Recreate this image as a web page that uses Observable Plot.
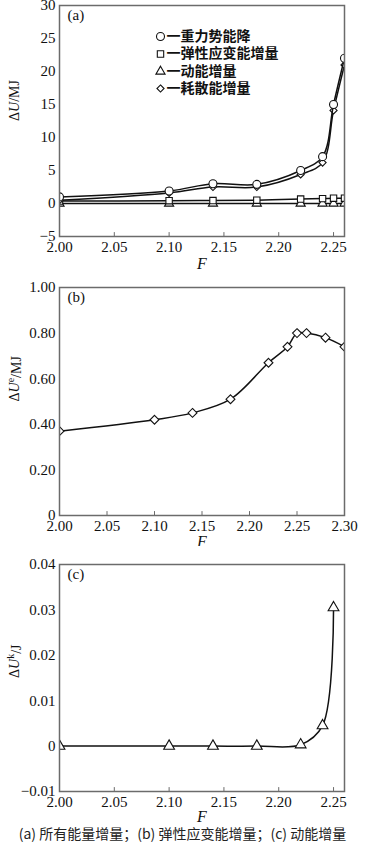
<!DOCTYPE html>
<html><head><meta charset="utf-8">
<script src="https://cdn.jsdelivr.net/npm/d3@7"></script>
<script src="https://cdn.jsdelivr.net/npm/@observablehq/plot@0.6"></script>
<style>
body{margin:0;background:#fff;}
#wrap{position:relative;width:365px;height:846px;overflow:hidden;}
.panel{position:absolute;left:0;}
#cap{position:absolute;left:0;top:826px;width:365px;text-align:center;font-family:"Noto Sans CJK SC",sans-serif;font-size:14px;color:#222;line-height:15px;white-space:nowrap;}
</style></head><body><div id="wrap"></div><script>
// ---- data ----
const F_a = [2.00, 2.10, 2.14, 2.18, 2.22, 2.24, 2.25, 2.26];
const gravity = [1.0, 1.9, 3.0, 2.9, 5.0, 7.1, 15.0, 22.0];
const elasticA = [0.37, 0.42, 0.45, 0.51, 0.67, 0.74, 0.80, 0.80];
const kineticA = [0, 0, 0, 0, 0, 0, 0, 0];
const dissip = [0.5, 1.6, 2.5, 2.5, 4.4, 6.2, 14.1, 21.0];
const F_b = [2.00, 2.10, 2.14, 2.18, 2.22, 2.24, 2.25, 2.26, 2.28, 2.30];
const elastic = [0.37, 0.42, 0.45, 0.51, 0.67, 0.74, 0.80, 0.80, 0.78, 0.74];
const F_c = [2.00, 2.10, 2.14, 2.18, 2.22, 2.24, 2.25];
const kinetic = [0, 0, 0, 0, 0.0003, 0.0045, 0.0305];
const seriesNames = ["重力势能降", "弹性应变能增量", "动能增量", "耗散能增量"];
const seriesSymbols = ["circle", "square", "triangle", "diamond2"];
const xTicksA = [2.00, 2.05, 2.10, 2.15, 2.20, 2.25];
const xTicksB = [2.00, 2.05, 2.10, 2.15, 2.20, 2.25, 2.30];
const xTicksC = [2.00, 2.05, 2.10, 2.15, 2.20, 2.25];
const yTicksA = [-5, 0, 5, 10, 15, 20, 25, 30];
const yTicksB = [0, 0.2, 0.4, 0.6, 0.8, 1.0];
const yTicksC = [-0.01, 0, 0.01, 0.02, 0.03, 0.04];
const captionText = "(a) 所有能量增量；(b) 弹性应变能增量；(c) 动能增量";

const INK = "#111";
const FRAME = "#6b6b6b";
const SERIF = '"Liberation Serif", "DejaVu Serif", serif';
const CJK = '"Noto Sans CJK SC", sans-serif';
const YLABEL_KEY = "__ylabel__";

const rows = (xs, ys) => xs.map((x, i) => ({F: x, v: ys[i]}));
const minus = s => s.replace("-", "\u2212");

const tickShape = {draw(ctx, l) { ctx.moveTo(0, 0); ctx.lineTo(0, -l); }};

function series(data, symbol, r) {
  return [
    Plot.line(data, {x: "F", y: "v", curve: "catmull-rom", stroke: INK, strokeWidth: 1.5, clip: true}),
    Plot.dot(data, {x: "F", y: "v", symbol, r, fill: "white", stroke: INK, strokeWidth: 1.1, clip: true})
  ];
}

function panel(o) {
  const svg = Plot.plot({
    width: 365, height: o.height,
    marginLeft: 59, marginRight: 21, marginTop: o.marginTop, marginBottom: o.marginBottom,
    style: {fontFamily: SERIF, fontSize: "14px", color: INK, background: "#fff", overflow: "visible"},
    x: {domain: o.xDomain},
    y: {domain: o.yDomain},
    marks: [
      ...o.marks,
      Plot.axisX({ticks: o.xTicks, tickFormat: d => d.toFixed(2), tickSize: 0, tickPadding: 5, label: null, fontSize: 15, fontFamily: SERIF, fill: INK}),
      Plot.axisY({ticks: o.yTicks, tickFormat: o.yFormat, tickSize: 0, tickPadding: 4, label: null, fontSize: 15, fontFamily: SERIF, fill: INK}),
      Plot.vector(o.xTicks, {x: d => d, frameAnchor: "bottom", length: 4, rotate: 0, anchor: "start", shape: tickShape, stroke: FRAME, strokeWidth: 1}),
      Plot.text([o.tag], {frameAnchor: "top-left", dx: 8, dy: 10, textAnchor: "start", lineAnchor: "middle", fontSize: 15, fontFamily: SERIF, fill: INK}),
      Plot.text(["F"], {frameAnchor: "bottom", dy: o.fDy, lineAnchor: "middle", fontStyle: "italic", fontSize: 16, fontFamily: SERIF, fill: INK}),
      Plot.text([YLABEL_KEY], {frameAnchor: "left", dx: -45, rotate: -90, lineAnchor: "middle", fontSize: 14, fontFamily: SERIF, fill: INK}),
      Plot.frame({stroke: FRAME, strokeWidth: 1.5})
    ]
  });
  // y-axis label with italic U and superscript
  d3.select(svg).selectAll("text").filter(function() { return this.textContent === YLABEL_KEY; }).each(function() {
    const t = d3.select(this);
    t.text(null);
    t.append("tspan").text("\u0394");
    t.append("tspan").attr("font-style", "italic").text("U");
    if (o.sup) {
      t.append("tspan").attr("font-size", 10).attr("dy", "-0.45em").text(o.sup);
      t.append("tspan").attr("dy", "0.45em").text(o.unit);
    } else {
      t.append("tspan").text(o.unit);
    }
  });
  svg.classList.add("panel");
  svg.style.top = o.top + "px";
  return svg;
}

// legend marks for panel (a)
const legendRowsDy = [31, 48.5, 66, 83];
const legendR = [4, 3.6, 3.4, 3.2];
const legendMarks = seriesNames.flatMap((name, i) => [
  Plot.dot([name], {frameAnchor: "top-left", dx: 101, dy: legendRowsDy[i], symbol: seriesSymbols[i], r: legendR[i], fill: "white", stroke: INK, strokeWidth: 1.1}),
  Plot.text(["一" + name], {frameAnchor: "top-left", dx: 107, dy: legendRowsDy[i], textAnchor: "start", lineAnchor: "middle", fontFamily: CJK, fontSize: 14, fontWeight: 600, fill: INK})
]);

const wrap = document.getElementById("wrap");

wrap.appendChild(panel({
  top: 0, height: 270, marginTop: 5, marginBottom: 34, fDy: 27,
  xDomain: [2.00, 2.26], xTicks: xTicksA,
  yDomain: [-5, 30], yTicks: yTicksA, yFormat: d => minus(String(d)),
  tag: "(a)", unit: "/MJ",
  marks: [
    ...series(rows(F_a, kineticA), "triangle", 3.4),
    ...series(rows(F_a, elasticA), "square", 3.6),
    ...series(rows(F_a, dissip), "diamond2", 3.2),
    ...series(rows(F_a, gravity), "circle", 4),
    ...legendMarks
  ]
}));

wrap.appendChild(panel({
  top: 270, height: 276, marginTop: 17, marginBottom: 31, fDy: 26,
  xDomain: [2.00, 2.30], xTicks: xTicksB,
  yDomain: [0, 1], yTicks: yTicksB, yFormat: d => d === 0 ? "0" : d.toFixed(2),
  tag: "(b)", sup: "e", unit: "/MJ",
  marks: [...series(rows(F_b, elastic), "diamond2", 4)]
}));

wrap.appendChild(panel({
  top: 546, height: 276, marginTop: 18, marginBottom: 31, fDy: 25,
  xDomain: [2.00, 2.26], xTicks: xTicksC,
  yDomain: [-0.01, 0.04], yTicks: yTicksC, yFormat: d => d === 0 ? "0" : minus(d.toFixed(2)),
  tag: "(c)", sup: "k", unit: "/J",
  marks: [...series(rows(F_c, kinetic), "triangle", 4)]
}));

const cap = document.createElement("div");
cap.id = "cap";
cap.textContent = captionText;
wrap.appendChild(cap);
</script></body></html>
